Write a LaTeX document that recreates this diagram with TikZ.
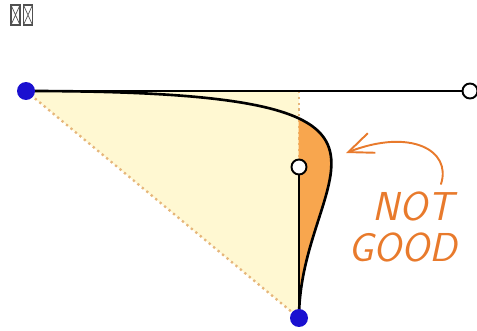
\documentclass[tikz,border=0pt]{standalone}
\usepackage{xcolor,tikz}
\usetikzlibrary{arrows.meta}
\definecolor{skYellowBg}{HTML}{FFF8D2}
\definecolor{skOrangeFill}{HTML}{F8A64E}
\definecolor{skNoteOrange}{HTML}{E87A2C}
\definecolor{skDotTan}{HTML}{E6B67A}
\definecolor{skBlue}{HTML}{1A10D0}
\definecolor{skTofu}{HTML}{505050}
\tikzset{
  anchor dot/.style={
    circle, fill=skBlue, inner sep=0pt,
    minimum size=0.36cm,
  },
  handle dot/.style={
    circle, draw=black, fill=white, line width=1.1pt,
    inner sep=0pt, minimum size=0.3cm,
  },
  guide line/.style={
    draw=skDotTan, dotted, line width=1.3pt,
  },
  note text/.style={
    text=skNoteOrange, font=\fontsize{23}{26}\selectfont\sffamily\itshape,
    inner sep=0pt,
  },
  tofu box/.style={
    rectangle, draw=skTofu, line width=0.6pt, inner sep=0pt,
    minimum width=0.18cm, minimum height=0.4cm,
    path picture={
      \draw[skTofu, line width=0.4pt]
        (path picture bounding box.south west) -- (path picture bounding box.north east)
        (path picture bounding box.north west) -- (path picture bounding box.south east);
    },
  },
}
\begin{document}
\begin{tikzpicture}[x=0.02cm, y=-0.02cm]
\useasboundingbox (0,0) rectangle (477,331);

%% points of the curve
\coordinate (pA) at (26,91);
\coordinate (pB) at (299,318);
\coordinate (pEnd) at (470,91);
\coordinate (pMid) at (299,167);
\coordinate (pCorner) at (299,91);

%% two missing glyphs
\node[tofu box] (tofuA) at (15.5,15) {};
\node[tofu box] (tofuB) at (28,15) {};

%% yellow triangle and its guides
\fill[skYellowBg] (pA) -- (pCorner) -- (pB) -- cycle;
\draw[guide line] (pA) -- (pB);
\draw[guide line] (pCorner) -- (pB);

%% part of the curve that overshoots
\begin{scope}
  \clip (298.5,0) rectangle (477,331);
  \fill[skOrangeFill] (pA) .. controls (pEnd) and (pMid) .. (pB) -- cycle;
\end{scope}

%% handles and curve
\draw[line width=1.1pt] (pA) -- (pEnd);
\draw[line width=1.1pt] (pMid) -- (pB);
\draw[line width=1.5pt] (pA) .. controls (pEnd) and (pMid) .. (pB);

\node[anchor dot] (dotA) at (pA) {};
\node[anchor dot] (dotB) at (pB) {};
\node[handle dot] (handleEnd) at (pEnd) {};
\node[handle dot] (handleMid) at (pMid) {};

%% the note
\coordinate (arrowTail) at (441,184);
\coordinate (arrowTip) at (346,153);
\draw[skNoteOrange, line width=1.1pt, line cap=round,
      -{Straight Barb[length=0.5cm, width=0.42cm, line width=1.1pt]}]
  (arrowTail) .. controls (452,150) and (410,128) .. (arrowTip);
\node[note text] (noteNot) at (413,206) {NOT};
\node[note text] (noteGood) at (403,247) {GOOD};

\end{tikzpicture}
\end{document}
